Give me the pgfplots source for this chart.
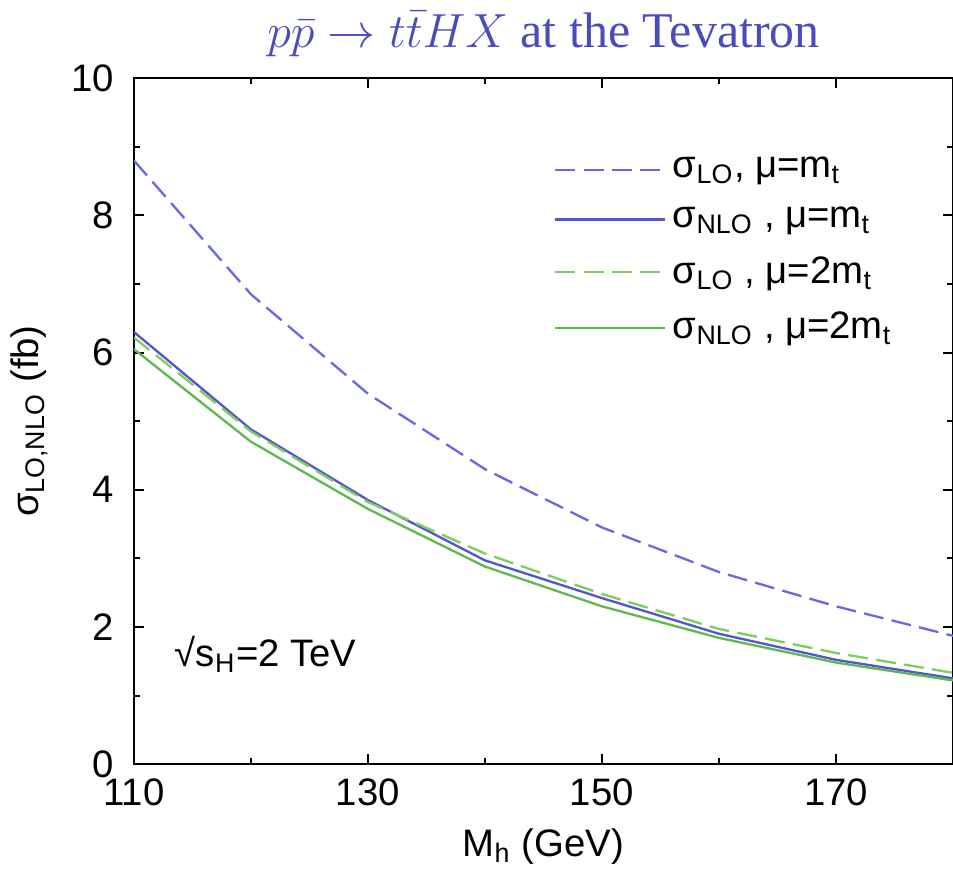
\documentclass[border=0pt]{standalone}
\usepackage{fontspec}
\setmainfont{Liberation Sans}
\newfontfamily\titlefont{Liberation Serif}
\usepackage{pgfplots}
\pgfplotsset{compat=1.18}

\definecolor{loblue}{RGB}{105,105,230}
\definecolor{nloblue}{RGB}{85,85,205}
\definecolor{logreen}{RGB}{125,205,95}
\definecolor{nlogreen}{RGB}{95,185,80}
\definecolor{titleblue}{RGB}{75,75,190}

\begin{document}
\begin{tikzpicture}[trim axis right]
\begin{axis}[
    scale only axis,
    width=246pt, height=206pt,
    xmin=110, xmax=180, ymin=0, ymax=10,
    xtick={110,130,150,170}, minor xtick={120,140,160},
    ytick={0,2,...,10}, minor ytick={1,3,...,9},
    tick align=inside,
    major tick length=3pt, minor tick length=1.8pt,
    tick style={black, line width=0.6pt},
    axis line style={line width=0.7pt},
    /pgf/number format/assume math mode=true,
    ticklabel style={font=\fontsize{11.5}{12}\selectfont},
    yticklabel style={xshift=-2.5pt},
    xticklabel style={yshift=-1pt},
    label style={font=\fontsize{11.5}{12}\selectfont},
    xlabel={M\textsubscript{h} (GeV)},
    xlabel style={yshift=0pt},
    ylabel={σ\textsubscript{LO,NLO} (fb)},
    title={\titlefont\color{titleblue}$p\bar p\to t\bar t H X$ at the Tevatron},
    title style={font=\fontsize{15}{17}\selectfont, yshift=-3pt},
    legend style={draw=none, fill=none, at={(0.5,0.905)}, anchor=north west,
        font=\fontsize{11.5}{12}\selectfont, row sep=3.2pt},
    legend cell align=left,
    legend image code/.code={\draw[#1] (0pt,0pt) -- (28pt,0pt); \path (0pt,0pt) -- (33pt,0pt);},
    every axis plot/.append style={line width=0.7pt},
]
% sigma_LO, mu = m_t
\addplot[loblue, dash pattern=on 6pt off 2.5pt] coordinates {
    (110,8.80) (120,6.85) (130,5.40) (140,4.30) (150,3.45) (160,2.80) (170,2.30) (180,1.87)};
\addlegendentry{σ\textsubscript{LO}, μ=m\textsubscript{t}}
% sigma_NLO, mu = m_t
\addplot[nloblue] coordinates {
    (110,6.30) (120,4.88) (130,3.85) (140,2.97) (150,2.42) (160,1.90) (170,1.52) (180,1.25)};
\addlegendentry{σ\textsubscript{NLO} , μ=m\textsubscript{t}}
% sigma_LO, mu = 2 m_t
\addplot[logreen, dash pattern=on 6pt off 2.5pt] coordinates {
    (110,6.22) (120,4.85) (130,3.82) (140,3.07) (150,2.48) (160,1.97) (170,1.62) (180,1.33)};
\addlegendentry{σ\textsubscript{LO} , μ=2m\textsubscript{t}}
% sigma_NLO, mu = 2 m_t
\addplot[nlogreen] coordinates {
    (110,6.05) (120,4.70) (130,3.72) (140,2.88) (150,2.30) (160,1.84) (170,1.48) (180,1.22)};
\addlegendentry{σ\textsubscript{NLO} , μ=2m\textsubscript{t}}

\node[anchor=west, font=\fontsize{11.5}{12}\selectfont] at (axis cs:112.5,1.6) {√s\textsubscript{H}=2 TeV};
\end{axis}
\end{tikzpicture}
\end{document}
